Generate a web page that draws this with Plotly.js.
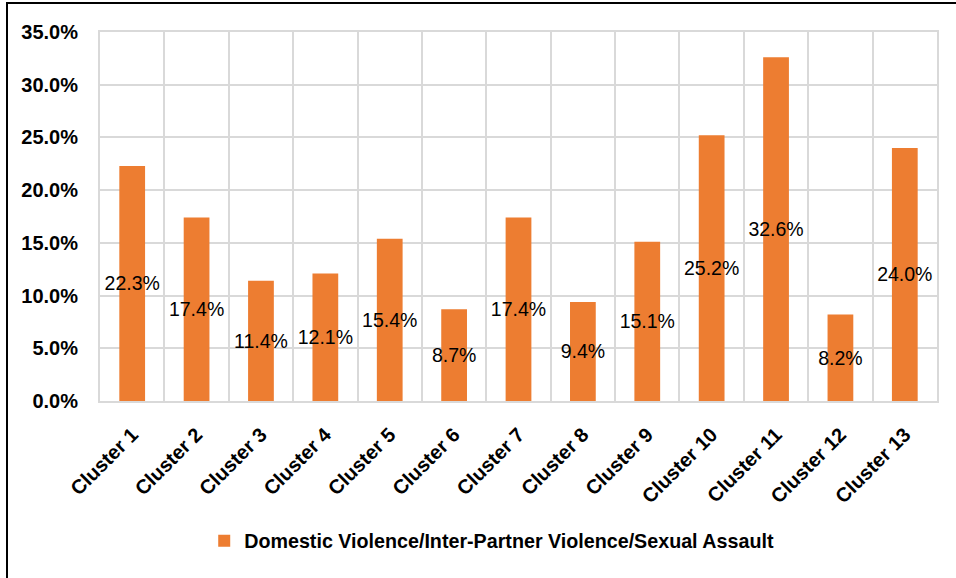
<!DOCTYPE html>
<html>
<head>
<meta charset="utf-8">
<script src="https://cdn.plot.ly/plotly-3.0.1.min.js"></script>
<style>
html,body{margin:0;padding:0;background:#fff;}
#wrap{position:relative;width:956px;height:578px;}
#chart{position:absolute;left:0;top:0;width:956px;height:578px;}
#frame{position:absolute;left:6px;top:2px;width:960px;height:600px;border-left:2px solid #000;border-top:2px solid #000;pointer-events:none;}
</style>
</head>
<body>
<div id="wrap">
<div id="chart"></div>
<div id="frame"></div>
</div>
<script>
const categories = ["Cluster 1","Cluster 2","Cluster 3","Cluster 4","Cluster 5","Cluster 6","Cluster 7","Cluster 8","Cluster 9","Cluster 10","Cluster 11","Cluster 12","Cluster 13"];
const values = [0.223,0.174,0.114,0.121,0.154,0.087,0.174,0.094,0.151,0.252,0.326,0.082,0.240];
const seriesName = "Domestic Violence/Inter-Partner Violence/Sexual Assault";
const yTicks = [0,0.05,0.10,0.15,0.20,0.25,0.30,0.35];

const font = "Liberation Sans, Arial, sans-serif";

const trace = {
  type: "bar",
  x: categories,
  y: values,
  name: seriesName,
  marker: {color: "#ED7D31", line: {width: 0}},
  width: 0.4,
  texttemplate: "%{y:.1%}",
  textposition: "inside",
  insidetextanchor: "middle",
  textangle: 0,
  constraintext: "none",
  insidetextfont: {family: font, size: 19.5, color: "#000"},
  showlegend: true,
  hoverinfo: "skip"
};

const layout = {
  width: 956,
  height: 578,
  margin: {l: 100, r: 19, t: 32, b: 177},
  paper_bgcolor: "#fff",
  plot_bgcolor: "#fff",
  font: {family: font, color: "#000"},
  xaxis: {
    type: "category",
    tickson: "boundaries",
    showgrid: true,
    gridcolor: "#d9d9d9",
    gridwidth: 2,
    showline: true,
    mirror: true,
    linecolor: "#d9d9d9",
    linewidth: 2,
    ticks: "",
    tickangle: -45,
    ticklabelstandoff: 12,
    tickfont: {family: font, size: 20, color: "#000", weight: "bold"},
    fixedrange: true
  },
  yaxis: {
    range: [0, 0.35],
    tickvals: yTicks,
    tickformat: ".1%",
    showgrid: true,
    gridcolor: "#d9d9d9",
    gridwidth: 2,
    zeroline: false,
    showline: true,
    mirror: true,
    linecolor: "#d9d9d9",
    linewidth: 2,
    ticks: "",
    ticklabelstandoff: 16,
    tickfont: {family: font, size: 20, color: "#000", weight: "bold"},
    fixedrange: true
  },
  showlegend: true,
  legend: {
    orientation: "h",
    x: 0.468,
    xanchor: "center",
    y: -0.379,
    yanchor: "middle",
    font: {family: font, size: 19.7, color: "#000", weight: "bold"},
    bgcolor: "rgba(0,0,0,0)"
  }
};

Plotly.newPlot("chart", [trace], layout, {displayModeBar: false, staticPlot: true});
</script>
</body>
</html>
